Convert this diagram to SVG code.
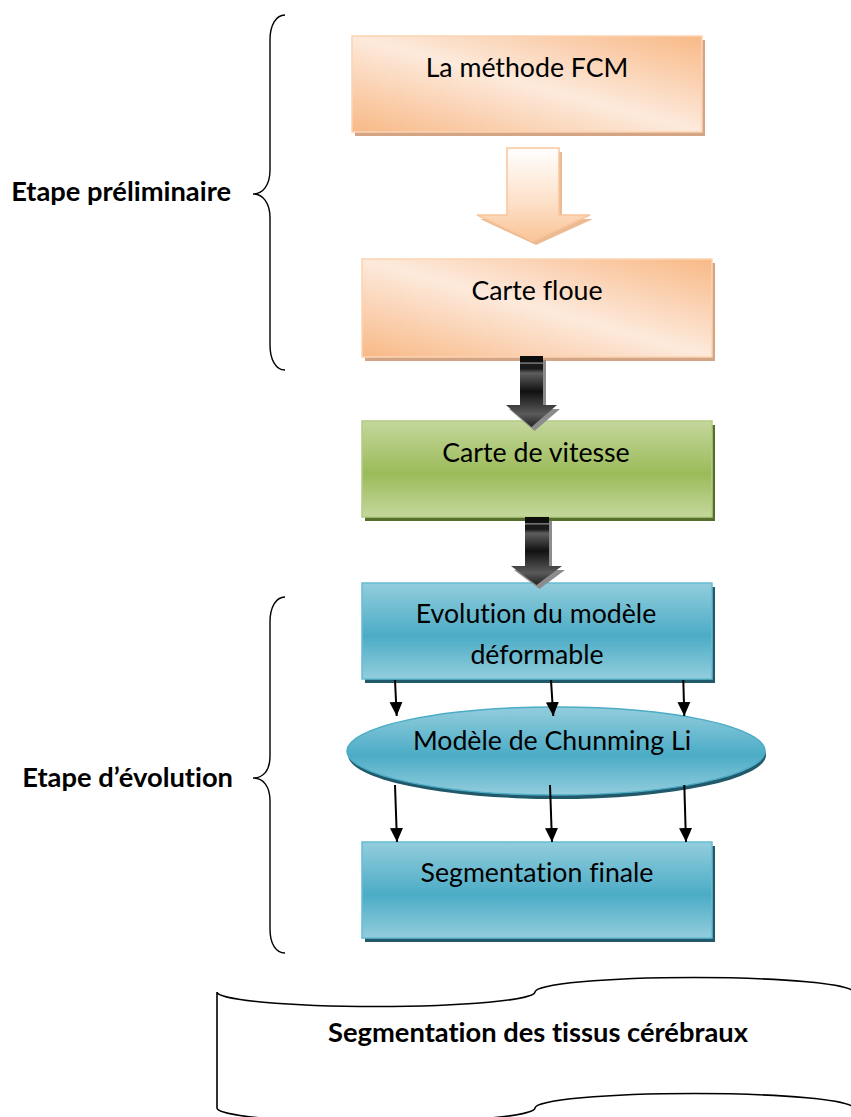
<svg xmlns="http://www.w3.org/2000/svg" width="851" height="1117" viewBox="0 0 851 1117">
  <defs>
    <!-- fills -->
    <linearGradient id="gOrange" x1="1" y1="0" x2="0" y2="1">
      <stop offset="0" stop-color="#f8b986"/>
      <stop offset="0.3" stop-color="#fbd6ba"/>
      <stop offset="0.5" stop-color="#fdeadc"/>
      <stop offset="0.7" stop-color="#fbd6ba"/>
      <stop offset="1" stop-color="#f8b986"/>
    </linearGradient>
    <linearGradient id="gGreen" x1="0" y1="0" x2="0" y2="1">
      <stop offset="0" stop-color="#c4d79c"/>
      <stop offset="0.55" stop-color="#9bbb59"/>
      <stop offset="1" stop-color="#c4d79c"/>
    </linearGradient>
    <linearGradient id="gBlue" x1="0" y1="0" x2="0" y2="1">
      <stop offset="0" stop-color="#93cddd"/>
      <stop offset="0.55" stop-color="#4bacc6"/>
      <stop offset="1" stop-color="#93cddd"/>
    </linearGradient>
    <linearGradient id="gPeachArrow" x1="0" y1="0" x2="0" y2="1">
      <stop offset="0" stop-color="#ffffff"/>
      <stop offset="0.55" stop-color="#fde2cc"/>
      <stop offset="1" stop-color="#fac497"/>
    </linearGradient>
    <linearGradient id="gMetal" x1="0" y1="0" x2="0" y2="1">
      <stop offset="0" stop-color="#0d0d0d"/>
      <stop offset="0.08" stop-color="#0d0d0d"/>
      <stop offset="0.1" stop-color="#8a8a8a"/>
      <stop offset="0.12" stop-color="#1a1a1a"/>
      <stop offset="0.18" stop-color="#1a1a1a"/>
      <stop offset="0.24" stop-color="#5e5e5e"/>
      <stop offset="0.5" stop-color="#111111"/>
      <stop offset="0.82" stop-color="#5a5a5a"/>
      <stop offset="1" stop-color="#222222"/>
    </linearGradient>
    <marker id="head" markerUnits="userSpaceOnUse" markerWidth="16" markerHeight="16" refX="14" refY="7" orient="auto">
      <path d="M0,0.5 L14,7 L0,13.5 Z" fill="#000"/>
    </marker>
    <style>
      .t { font-family: Lato, "Open Sans", "Liberation Sans", sans-serif; font-size: 26.7px; fill: #000; text-anchor: middle; font-variant-ligatures: none; }
      .tb { font-family: Lato, "Open Sans", "Liberation Sans", sans-serif; font-size: 27.3px; font-weight: bold; fill: #000; font-variant-ligatures: none; }
      .box-o { fill: url(#gOrange); stroke: #fcd3b3; stroke-width: 1.5; }
      .sh-o { fill: #d3a584; }
      .box-g { fill: url(#gGreen); stroke: #b4cc84; stroke-width: 1.5; }
      .sh-g { fill: #55702a; }
      .box-b { fill: url(#gBlue); stroke: #66bcd3; stroke-width: 1.5; }
      .sh-b { fill: #22596a; }
      .brace { fill: none; stroke: #000; stroke-width: 1.4; }
      .conn { fill: none; stroke: #000; stroke-width: 2; marker-end: url(#head); }
    </style>
  </defs>

  <rect width="851" height="1117" fill="#ffffff"/>

  <!-- stage braces and labels -->
  <g id="stage-prelim">
    <path class="brace" d="M285,15 C276,15 270,25 270,40 L270,170 C270,185 263,194 253,194 C263,194 270,203 270,218 L270,345 C270,360 276,370 285,370"/>
    <text class="tb" x="231" y="201" text-anchor="end">Etape préliminaire</text>
  </g>
  <g id="stage-evolution">
    <path class="brace" d="M285,597 C276,597 270,607 270,622 L270,756 C270,771 263,778 253,778 C263,778 270,786 270,801 L270,929 C270,944 276,953 285,953"/>
    <text class="tb" x="233" y="787" text-anchor="end">Etape d’évolution</text>
  </g>

  <!-- process steps -->
  <g id="fcm">
    <rect class="sh-o" x="355" y="40" width="350" height="96"/>
    <rect class="box-o" x="352" y="36" width="350" height="96"/>
    <text class="t" x="527" y="77">La méthode FCM</text>
  </g>
  <g id="carte-floue">
    <rect class="sh-o" x="365" y="263" width="350" height="98"/>
    <rect class="box-o" x="362" y="259" width="350" height="98"/>
    <text class="t" x="537" y="300">Carte floue</text>
  </g>
  <g id="carte-vitesse">
    <rect class="sh-g" x="365" y="425" width="350" height="96"/>
    <rect class="box-g" x="362" y="421" width="350" height="96"/>
    <text class="t" x="536" y="462">Carte de vitesse</text>
  </g>
  <g id="evolution">
    <rect class="sh-b" x="365" y="587" width="350" height="96"/>
    <rect class="box-b" x="362" y="583" width="350" height="96"/>
    <text class="t" x="536" y="623">Evolution du modèle</text>
    <text class="t" x="537" y="664">déformable</text>
  </g>
  <g id="chunming-li">
    <ellipse cx="557" cy="755" rx="209" ry="44" fill="#22596a"/>
    <ellipse cx="556" cy="751" rx="209" ry="44" fill="url(#gBlue)" stroke="#4bacc6" stroke-width="1.5"/>
    <text class="t" x="552" y="750">Modèle de Chunming Li</text>
  </g>
  <g id="segmentation-finale">
    <rect class="sh-b" x="365" y="846" width="350" height="96"/>
    <rect class="box-b" x="362" y="842" width="350" height="96"/>
    <text class="t" x="537" y="882">Segmentation finale</text>
  </g>
  <g id="resultat">
    <path d="M217,992 A159,14.5 0 0 0 535,992 A159,14.5 0 0 1 853,992 L853,1108 A159,14.5 0 0 0 535,1108 A159,14.5 0 0 1 217,1108 Z" fill="#ffffff" stroke="#000" stroke-width="1.6"/>
    <text class="tb" x="538" y="1042" text-anchor="middle">Segmentation des tissus cérébraux</text>
  </g>

  <!-- connectors -->
  <g id="connectors">
    <!-- block arrows between steps -->
    <path d="M510,152 L562,152 L562,219 L593,219 L536,245 L480,219 L510,219 Z" fill="#ecbb93"/>
    <path d="M507,148 L559,148 L559,215 L590,215 L533,241 L477,215 L507,215 Z" fill="url(#gPeachArrow)" stroke="#f9c59b" stroke-width="1.5"/>

    <path d="M523,360 L546,360 L546,409 L560,409 L534.5,431 L509,409 L523,409 Z" fill="#8c8c8c"/>
    <path d="M520,356 L543,356 L543,405 L557,405 L531.5,427 L506,405 L520,405 Z" fill="url(#gMetal)"/>

    <path d="M528,521 L552,521 L552,570 L565,570 L539.5,589 L514,570 L528,570 Z" fill="#8c8c8c"/>
    <path d="M525,517 L549,517 L549,566 L562,566 L536.5,585 L511,566 L525,566 Z" fill="url(#gMetal)"/>

    <!-- evolution -> ellipse -->
    <line class="conn" x1="395" y1="680" x2="396.7" y2="716"/>
    <line class="conn" x1="551" y1="680" x2="553.3" y2="716"/>
    <line class="conn" x1="683.3" y1="680" x2="684.3" y2="716"/>
    <!-- ellipse -> final segmentation -->
    <line class="conn" x1="395" y1="785" x2="397" y2="842"/>
    <line class="conn" x1="550" y1="785" x2="552" y2="842"/>
    <line class="conn" x1="684.3" y1="785" x2="686" y2="842"/>
  </g>
</svg>
